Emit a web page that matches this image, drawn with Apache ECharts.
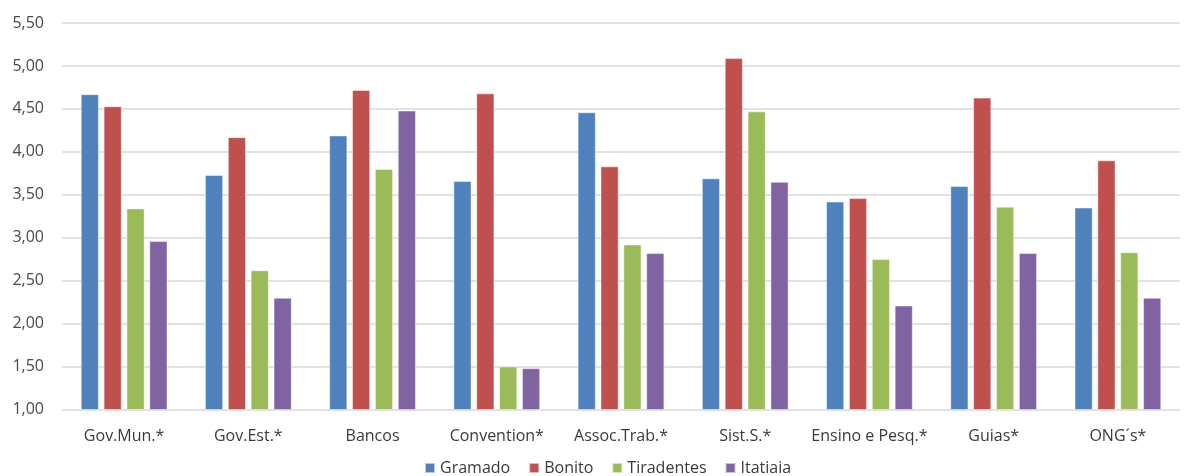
<!DOCTYPE html>
<html>
<head>
<meta charset="utf-8">
<script src="https://cdn.jsdelivr.net/npm/echarts@6/dist/echarts.min.js"></script>
<style>
  html, body { margin: 0; padding: 0; background: #fff; }
  #chart { width: 1187px; height: 476px; }
</style>
</head>
<body>
<div id="chart"></div>
<script>
// Categories (stakeholder groups) and per-destination scores
const categories = ['Gov.Mun.*', 'Gov.Est.*', 'Bancos', 'Convention*', 'Assoc.Trab.*', 'Sist.S.*', 'Ensino e Pesq.*', 'Guias*', 'ONG\u00B4s*'];
const gramado    = [4.67, 3.73, 4.19, 3.66, 4.46, 3.69, 3.42, 3.60, 3.35];
const bonito     = [4.53, 4.17, 4.72, 4.68, 3.83, 5.09, 3.46, 4.63, 3.90];
const tiradentes = [3.34, 2.62, 3.80, 1.50, 2.92, 4.47, 2.75, 3.36, 2.83];
const itatiaia   = [2.96, 2.30, 4.48, 1.48, 2.82, 3.65, 2.21, 2.82, 2.30];
const seriesNames = ['Gramado', 'Bonito', 'Tiradentes', 'Itatiaia'];
const seriesColors = ['#4F81BD', '#C0504D', '#9BBB59', '#8064A2'];
const seriesData = [gramado, bonito, tiradentes, itatiaia];

const fontFamily = '"Open Sans", "Noto Sans", sans-serif';
const chart = echarts.init(document.getElementById('chart'), null, { renderer: 'canvas' });

chart.setOption({
  animation: false,
  backgroundColor: '#ffffff',
  grid: { left: 62, right: 7, top: 23, bottom: 66.5, containLabel: false },
  legend: {
    data: seriesNames,
    bottom: -5,
    left: 419,
    itemWidth: 10,
    itemHeight: 10,
    itemGap: 18,
    icon: 'rect',
    textStyle: { fontFamily, fontSize: 16, color: '#3a3a3a' }
  },
  xAxis: {
    type: 'category',
    data: categories,
    axisLine: { show: false },
    axisTick: { show: false },
    axisLabel: { fontFamily, fontSize: 16, color: '#3a3a3a', margin: 19, interval: 0 }
  },
  yAxis: {
    type: 'value',
    min: 1,
    max: 5.5,
    interval: 0.5,
    axisLine: { show: false },
    axisTick: { show: false },
    axisLabel: {
      fontFamily, fontSize: 16, color: '#4a4a4a', margin: 18,
      formatter: v => v.toFixed(2).replace('.', ',')
    },
    splitLine: { lineStyle: { color: '#d9d9d9', width: 1.5 } }
  },
  series: seriesNames.map((name, i) => ({
    name,
    type: 'bar',
    data: seriesData[i],
    barWidth: 18,
    barGap: '27%',
    itemStyle: { color: seriesColors[i], borderColor: 'rgba(255,255,255,0.6)', borderWidth: 0.8 }
  }))
});
</script>
</body>
</html>
